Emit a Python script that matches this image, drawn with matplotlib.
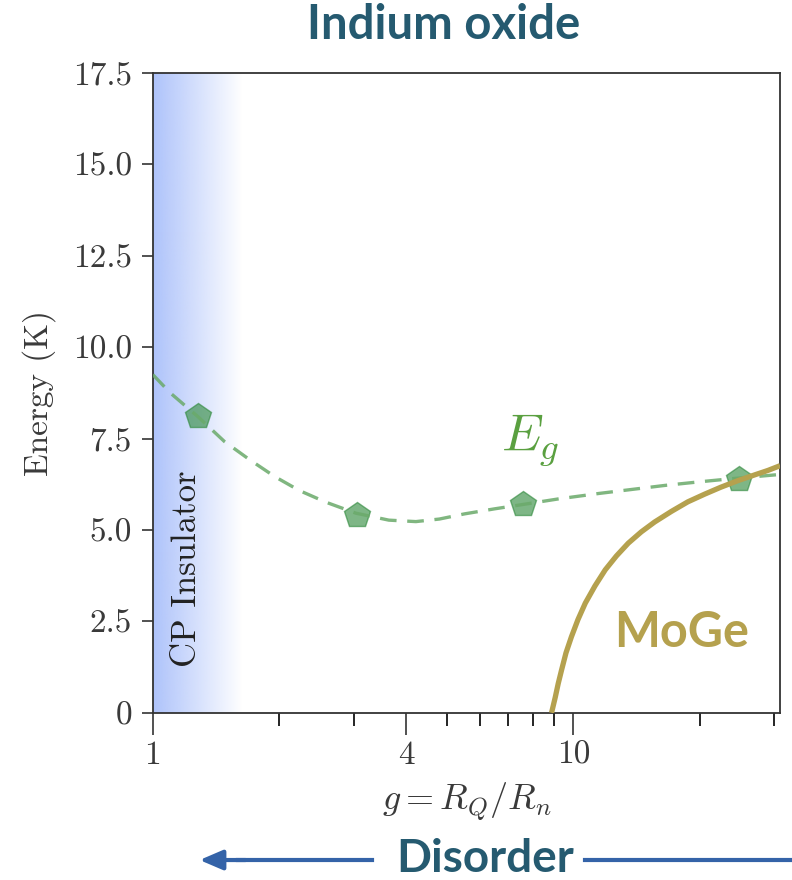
import numpy as np
import matplotlib.pyplot as plt
from matplotlib.colors import to_rgb

plt.rcParams['mathtext.fontset'] = 'cm'
plt.rcParams['font.family'] = ['cmr10', 'DejaVu Sans']
plt.rcParams['axes.formatter.use_mathtext'] = True

# measured gap E_g for indium oxide
g_pts = [1.28, 3.05, 7.60, 24.8]
eg_pts = [8.12, 5.40, 5.70, 6.40]

# guide curve through the E_g points
g_fit = [1.0, 1.1, 1.28, 1.48, 1.70, 1.95, 2.23, 2.58, 3.04, 3.64, 4.22, 4.8, 5.5, 6.5, 7.6, 9.2, 11.5, 14.0, 16.5, 20.0, 23.6, 31.0]
eg_fit = [9.25, 8.75, 8.10, 7.42, 6.92, 6.46, 6.08, 5.76, 5.46, 5.27, 5.23, 5.30, 5.44, 5.58, 5.70, 5.85, 6.00, 6.12, 6.22, 6.32, 6.40, 6.52]

# MoGe gap
g_moge = [8.87, 9.05, 9.2, 9.37, 9.6, 9.89, 10.25, 10.67, 11.25, 11.9, 12.65, 13.5, 14.5, 15.6, 17.1, 18.7, 20.5, 22.4, 24.6, 27.0, 29.0, 31.0]
e_moge = [0.0, 0.42, 0.80, 1.17, 1.64, 2.08, 2.55, 3.00, 3.47, 3.91, 4.29, 4.64, 4.95, 5.22, 5.51, 5.77, 5.98, 6.17, 6.35, 6.51, 6.63, 6.76]

xticks = [1, 4, 10]
yticks = [0, 2.5, 5.0, 7.5, 10.0, 12.5, 15.0, 17.5]
yticklabels = ['0', '2.5', '5.0', '7.5', '10.0', '12.5', '15.0', '17.5']

fig = plt.figure(figsize=(7.92, 8.8), dpi=100)
ax = fig.add_axes([0.193, 0.19, 0.792, 0.727])

# insulating region shading
blue = np.array(to_rgb('#aec3fb'))
grad = np.zeros((2, 256, 4))
grad[:, :, :3] = blue
grad[:, :, 3] = np.linspace(1, 0, 256)
ax.imshow(grad, extent=[0, 0.142, 0, 1], transform=ax.transAxes, aspect='auto', zorder=0)

ax.plot(g_pts, eg_pts, linestyle='none', marker='p', markersize=19, color='#2f8a3c', alpha=0.62, zorder=2)
ax.plot(g_fit, eg_fit, '--', color='#6aaa6a', linewidth=2.4, dashes=(5, 3.2), alpha=0.85, zorder=3)
ax.plot(g_moge, e_moge, color='#b5a14e', linewidth=3.8, solid_capstyle='butt', zorder=4)

ax.set_xscale('log')
ax.set_xlim(1, 31)
ax.set_ylim(0, 17.5)
ax.set_xticks(xticks)
ax.set_xticklabels([str(t) for t in xticks])
ax.set_xticks([2, 3, 5, 6, 7, 8, 9, 20, 30], minor=True)
ax.set_yticks(yticks)
ax.set_yticklabels(yticklabels)
ax.tick_params(axis='x', which='major', length=16, width=1.2, labelsize=24, pad=4)
ax.tick_params(axis='x', which='minor', length=9, width=1.2)
ax.tick_params(axis='y', which='major', length=8, width=1.2, labelsize=24, pad=7)
for s in ax.spines.values():
    s.set_linewidth(1.3)
    s.set_color('#333333')
ax.tick_params(colors='#333333', labelcolor='#3a3a3a')

ax.set_xlabel('$g = R_Q/R_n$', fontsize=26, labelpad=8, color='#3a3a3a')
ax.set_ylabel('Energy (K)', fontsize=24, labelpad=12, color='#3a3a3a')

ax.text(1.21, 1.26, 'CP Insulator', rotation=90, fontsize=25, color='#222222', ha='center', va='bottom')
ax.text(7.9, 7.45, '$E_g$', fontsize=38, color='#5aa040', ha='center', va='center')
ax.text(18.1, 2.2, 'MoGe', fontsize=35, fontweight='bold', family='Lato', color='#b5a14e', ha='center', va='center')

fig.text(0.56, 0.972, 'Indium oxide', fontsize=34, fontweight='bold', family='Lato', color='#255a70', ha='center', va='center')
fig.text(0.612, 0.0235, 'Disorder', fontsize=33, fontweight='bold', family='Lato', color='#255a70', ha='center', va='center')
fig.add_artist(plt.Line2D([585 / 792, 1.0], [0.0227, 0.0227], color='#3463a8', linewidth=3, transform=fig.transFigure))
fig.add_artist(plt.Line2D([0.30, 372 / 792], [0.0227, 0.0227], color='#3463a8', linewidth=3, transform=fig.transFigure))
ax.annotate('', xy=(0.252, 0.0227), xytext=(0.31, 0.0227), xycoords='figure fraction',
            arrowprops=dict(arrowstyle='-|>,head_length=1.4,head_width=0.6', color='#3463a8', lw=3, shrinkA=0, shrinkB=0))

plt.savefig('out.png', dpi=100)
